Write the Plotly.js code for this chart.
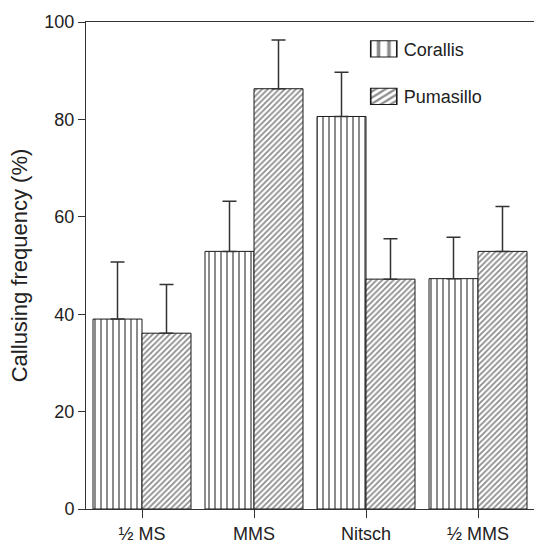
<!DOCTYPE html>
<html>
<head>
<meta charset="utf-8">
<script src="https://cdn.plot.ly/plotly-3.0.1.min.js"></script>
<style>html,body{margin:0;padding:0;background:#fff;}#chart{width:534px;height:540px;}</style>
</head>
<body>
<div id="chart"></div>
<script>
const categories = ["½ MS", "MMS", "Nitsch", "½ MMS"];
const seriesNames = ["Corallis", "Pumasillo"];
const corallis = [39.0, 52.9, 80.6, 47.3];
const corallisErr = [11.7, 10.3, 9.1, 8.5];
const pumasillo = [36.1, 86.3, 47.2, 52.9];
const pumasilloErr = [10.0, 10.0, 8.3, 9.2];
const yTicks = [0, 20, 40, 60, 80, 100];

function zeros(a){ return a.map(function(){ return 0; }); }

const traces = [
  {
    type: "bar", name: seriesNames[0], x: categories, y: corallis, legendgroup: "a",
    marker: {color: "white", line: {color: "#1a1a1a", width: 1},
      pattern: {shape: "|", size: 6, solidity: 0.34, fgcolor: "#1a1a1a", bgcolor: "white", fillmode: "overlay"}},
    error_y: {type: "data", symmetric: false, array: corallisErr, arrayminus: zeros(corallisErr),
      color: "#333", thickness: 1.5, width: 7}
  },
  {
    type: "bar", name: seriesNames[1], x: categories, y: pumasillo, legendgroup: "b",
    marker: {color: "white", line: {color: "#1a1a1a", width: 1},
      pattern: {shape: "/", size: 4, solidity: 0.45, fgcolor: "#1a1a1a", bgcolor: "white", fillmode: "overlay"}},
    error_y: {type: "data", symmetric: false, array: pumasilloErr, arrayminus: zeros(pumasilloErr),
      color: "#333", thickness: 1.5, width: 7}
  }
];

const layout = {
  width: 534, height: 540,
  margin: {l: 86, r: 0, t: 22, b: 31},
  paper_bgcolor: "white", plot_bgcolor: "white",
  font: {family: "Liberation Sans, Arial, sans-serif", size: 18, color: "#222"},
  barmode: "group", bargap: 0.125, bargroupgap: 0,
  showlegend: true,
  legend: {x: 0.62, y: 0.982, xanchor: "left", yanchor: "top", bgcolor: "rgba(0,0,0,0)",
    font: {size: 18}, tracegroupgap: 21, itemwidth: 30},
  xaxis: {
    type: "category", range: [-0.5, 3.5], showline: true, linecolor: "#333", linewidth: 1,
    mirror: true, ticks: "outside", ticklen: 8, tickcolor: "#333", showgrid: false, zeroline: false,
    tickfont: {size: 18}
  },
  yaxis: {
    range: [0, 100], tickvals: yTicks, ticktext: yTicks.map(String), showline: true, linecolor: "#333",
    linewidth: 1, ticks: "outside", ticklen: 7, tickcolor: "#333", showgrid: false, zeroline: false,
    tickfont: {size: 18}, ticklabelstandoff: 0,
    title: {text: "Callusing frequency (%)\u00A0\u00A0\u00A0\u00A0", font: {size: 22}, standoff: 10}
  }
};

Plotly.newPlot("chart", traces, layout, {staticPlot: true, displayModeBar: false}).then(function(gd){
  gd.querySelectorAll(".legend .legendpoints path").forEach(function(p){
    const t = p.getAttribute("transform") || "";
    p.setAttribute("transform", t + " scale(2.17,1.35)");
    p.style.strokeWidth = "0.75px";
  });
});
</script>
</body>
</html>
